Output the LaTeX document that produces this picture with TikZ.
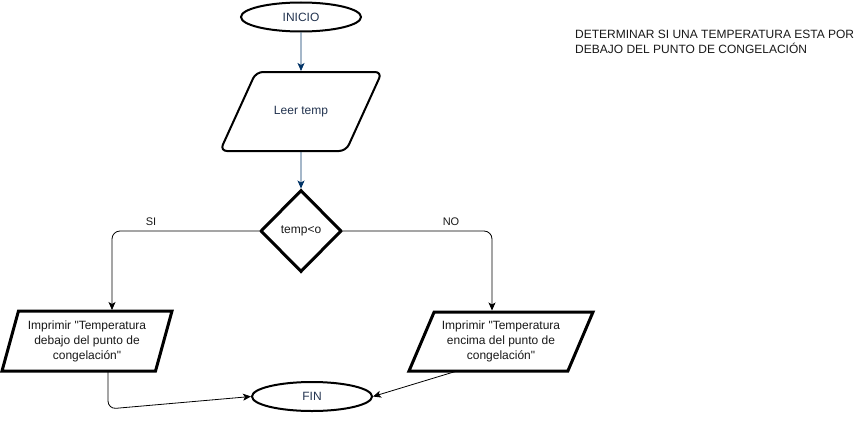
\documentclass[tikz,border=0pt]{standalone}
\usepackage{fontspec}
\setmainfont{Liberation Sans}[Ligatures=TeXOff]
\usetikzlibrary{shapes.geometric,arrows.meta,calc}
\definecolor{navy}{RGB}{0,51,102}
\definecolor{txtblue}{RGB}{35,52,80}
\definecolor{txtdark}{RGB}{25,25,25}
\begin{document}
\begin{tikzpicture}[x=1pt,y=-1pt,
  every node/.style={font=\fontsize{12}{15}\selectfont, align=center},
  term/.style={ellipse, draw, line width=2pt, minimum width=120pt, minimum height=29pt, inner sep=0pt, text=txtblue},
  iobox/.style={trapezium, trapezium stretches body, draw, inner sep=0pt},
  decbox/.style={diamond, draw, line width=3pt, minimum width=81pt, minimum height=82pt, inner sep=0pt, text=txtdark},
  conn/.style={draw=black, line width=0.8pt, -{Stealth[length=8pt,width=7pt,inset=2pt]}},
  connblue/.style={draw=navy, line width=0.8pt, -{Stealth[length=8pt,width=7pt,inset=2pt]}},
  lbl/.style={font=\fontsize{11}{13}\selectfont, text=txtdark}
]
\useasboundingbox[fill=white] (0,0) rectangle (864,420);

\node[term] (ini) at (301,17) {INICIO};
\node[iobox, trapezium left angle=65.5, trapezium right angle=114.5,
      text height=8.5pt, text depth=2.5pt, inner ysep=34pt,
      minimum width=162pt, minimum height=79pt, line width=2pt, rounded corners=7pt, text=txtblue] (leer) at (301,111.5) {Leer temp};
\node[decbox] (dec) at (301,231) {temp<o};
\node[iobox, trapezium left angle=68.2, trapezium right angle=111.8,
      minimum width=170pt, minimum height=60pt, line width=3pt, text=txtdark] (lpar) at (87,341)
      {Imprimir "Temperatura\\debajo del punto de\\congelación"};
\node[iobox, trapezium left angle=58.6, trapezium right angle=121.4,
      minimum width=184pt, minimum height=59pt, line width=3pt, text=txtdark] (rpar) at (501,341.5)
      {Imprimir "Temperatura\\encima del punto de\\congelación"};
\node[term] (fin) at (312,396.5) {FIN};

\node[anchor=north west, align=left, text=txtdark, inner sep=0pt] (title) at (575,30)
  {DETERMINAR SI UNA TEMPERATURA ESTA POR\\DEBAJO DEL PUNTO DE CONGELACIÓN};

\draw[connblue] (ini) -- (leer);
\draw[connblue] (leer) -- (dec);
\draw[conn, rounded corners=8pt] (dec.west) -| ($(lpar.center)+(25,-31)$);
\draw[conn, rounded corners=8pt] (dec.east) -| ($(rpar.center)+(-9,-31)$);
\node[lbl] (si) at (151,222) {SI};
\node[lbl] (no) at (451,222) {NO};
\draw[conn, rounded corners=8pt] ($(lpar.center)+(21,30)$) -- ++(0,38) -- (fin.west);
\draw[conn] ($(rpar.center)+(-44,29.5)$) -- (fin.east);
\end{tikzpicture}
\end{document}
